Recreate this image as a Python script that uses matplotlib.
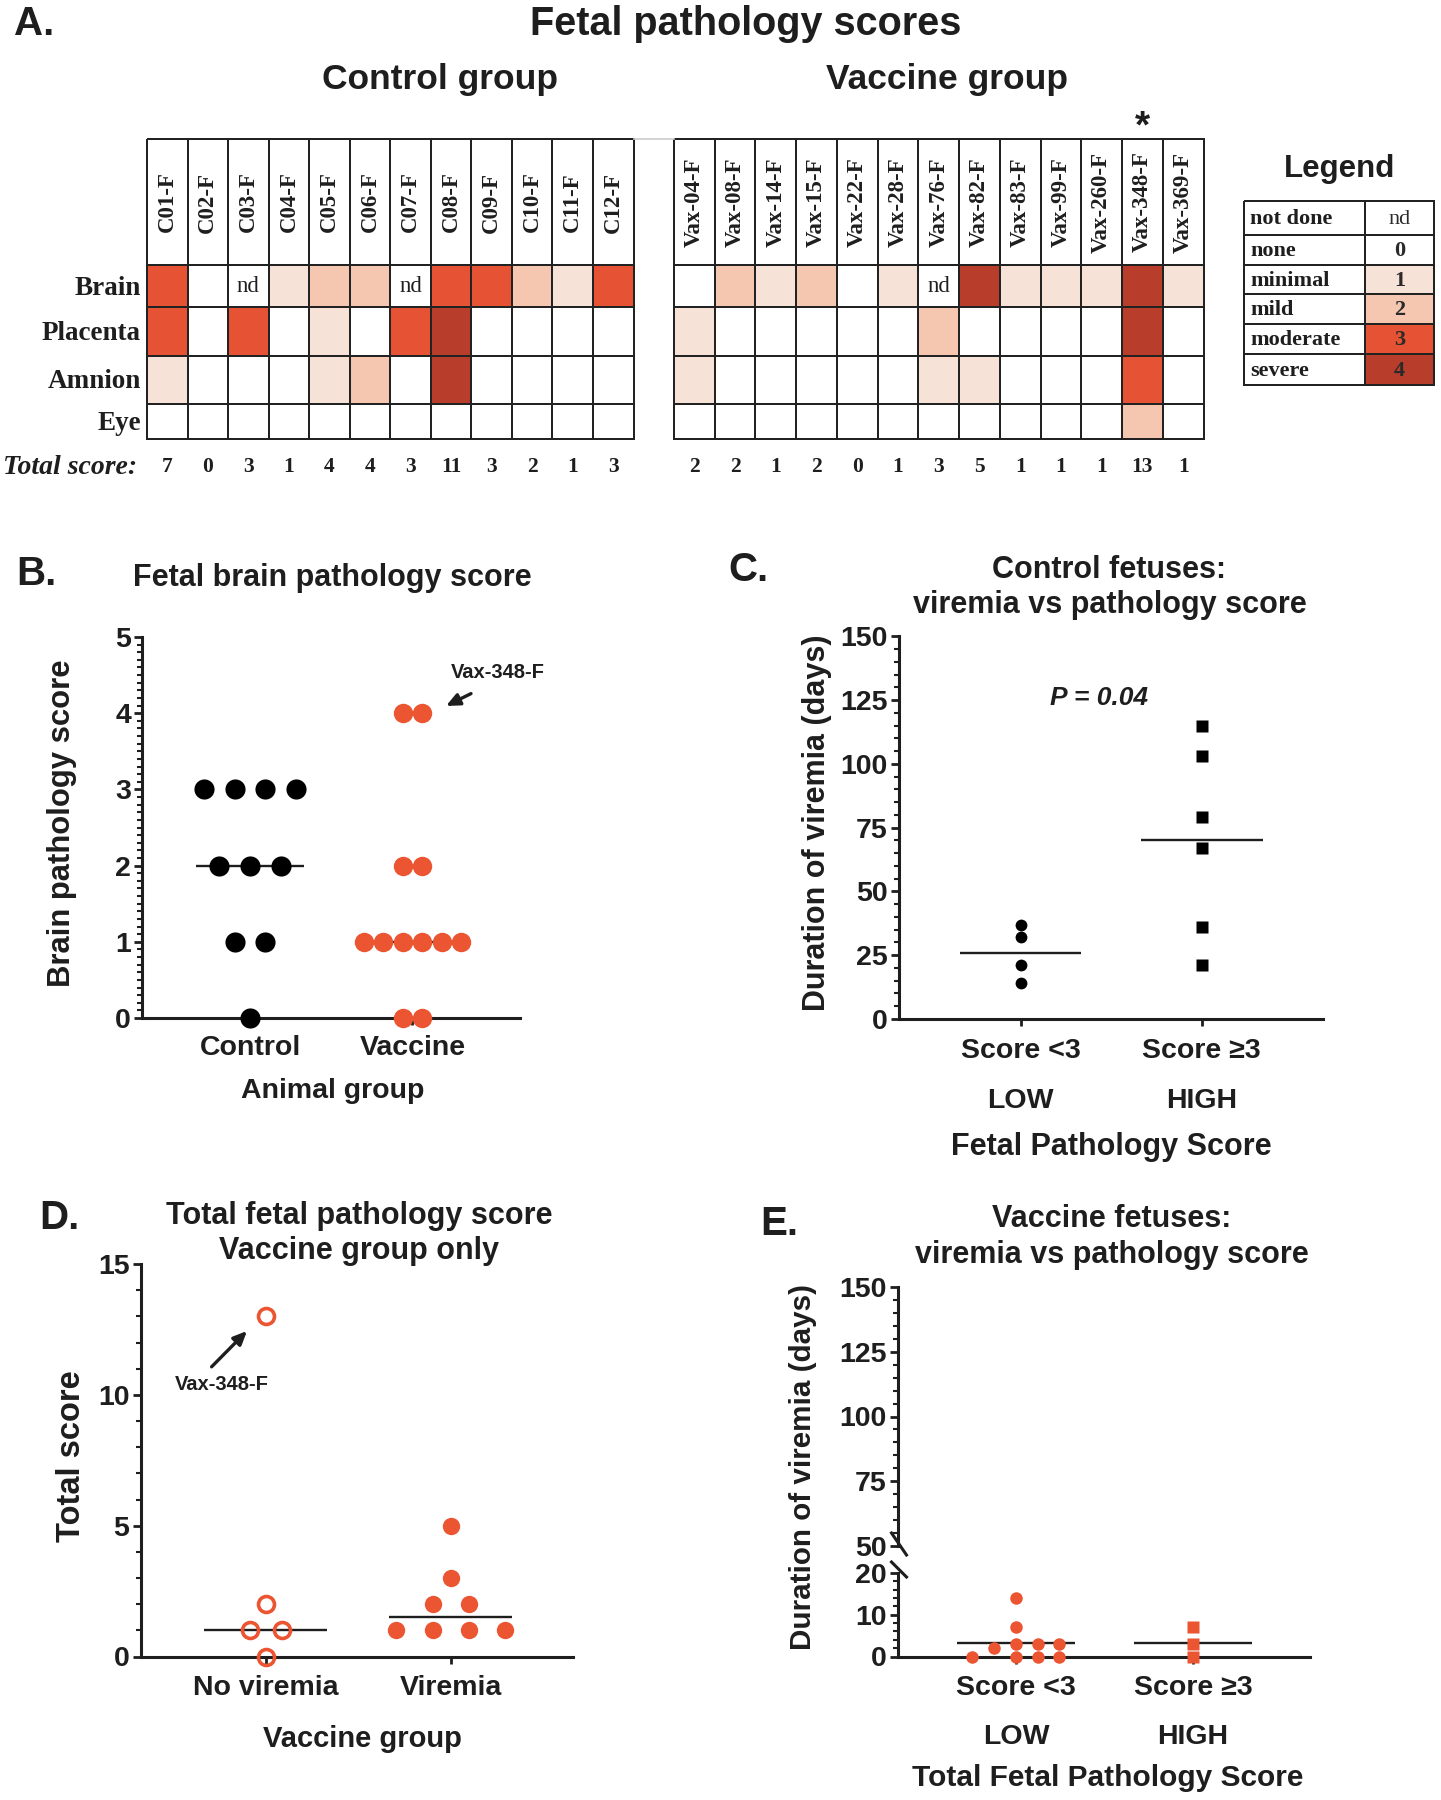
import numpy as np
import matplotlib
matplotlib.use("Agg")
import matplotlib.pyplot as plt
from matplotlib.colors import ListedColormap, BoundaryNorm
from matplotlib.lines import Line2D
from matplotlib.ticker import MultipleLocator

ND = np.nan

# ---------------- DATA ----------------
control_ids = ["C01-F", "C02-F", "C03-F", "C04-F", "C05-F", "C06-F",
               "C07-F", "C08-F", "C09-F", "C10-F", "C11-F", "C12-F"]
vaccine_ids = ["Vax-04-F", "Vax-08-F", "Vax-14-F", "Vax-15-F", "Vax-22-F",
               "Vax-28-F", "Vax-76-F", "Vax-82-F", "Vax-83-F", "Vax-99-F",
               "Vax-260-F", "Vax-348-F", "Vax-369-F"]
tissues = ["Brain", "Placenta", "Amnion", "Eye"]

control_brain = [3, 0, ND, 1, 2, 2, ND, 3, 3, 2, 1, 3]
control_placenta = [3, 0, 3, 0, 1, 0, 3, 4, 0, 0, 0, 0]
control_amnion = [1, 0, 0, 0, 1, 2, 0, 4, 0, 0, 0, 0]
control_eye = [0, 0, 0, 0, 0, 0, 0, 0, 0, 0, 0, 0]

vaccine_brain = [0, 2, 1, 2, 0, 1, ND, 4, 1, 1, 1, 4, 1]
vaccine_placenta = [1, 0, 0, 0, 0, 0, 2, 0, 0, 0, 0, 4, 0]
vaccine_amnion = [1, 0, 0, 0, 0, 0, 1, 1, 0, 0, 0, 3, 0]
vaccine_eye = [0, 0, 0, 0, 0, 0, 0, 0, 0, 0, 0, 2, 0]
starred_fetus = "Vax-348-F"

severity_names = ["not done", "none", "minimal", "mild", "moderate", "severe"]
severity_codes = ["nd", "0", "1", "2", "3", "4"]

# Panel B (brain scores, nd excluded)
brain_groups = ["Control", "Vaccine"]
brain_control = [v for v in control_brain if not np.isnan(v)]
brain_vaccine = [v for v in vaccine_brain if not np.isnan(v)]

# Panel C (control fetuses, duration of viremia in days)
c_groups = ["Score <3\nLOW", "Score \u22653\nHIGH"]
c_low = [37, 32, 21, 14]
c_high = [115, 103, 79, 67, 36, 21]

# Panel D (vaccine group total scores)
d_groups = ["No viremia", "Viremia"]
d_no_viremia = [13, 2, 1, 1, 0]
d_viremia = [5, 3, 2, 2, 1, 1, 1, 1]

# Panel E (vaccine fetuses, duration of viremia in days)
e_groups = ["Score <3\nLOW", "Score \u22653\nHIGH"]
e_low = [0, 2, 0, 3, 7, 14, 0, 3, 0, 3]
e_high = [7, 3, 0]

# ---------------- STYLE ----------------
W, H = 1441, 1800
TXT = "#1e1e1e"
ORANGE = "#EB5532"
SEV_COLORS = ["white", "white", "#F7E2D8", "#F5C7B0", "#E55234", "#B83D2A"]
SERIF = ["Liberation Serif", "DejaVu Serif"]
plt.rcParams["font.family"] = ["Liberation Sans", "DejaVu Sans"]
plt.rcParams["font.weight"] = "bold"
plt.rcParams["text.color"] = TXT
plt.rcParams["axes.edgecolor"] = TXT
plt.rcParams["xtick.color"] = TXT
plt.rcParams["ytick.color"] = TXT

fig = plt.figure(figsize=(W / 100, H / 100), dpi=100)


def px(x0, y0, x1, y1):
    return [x0 / W, 1 - y1 / H, (x1 - x0) / W, (y1 - y0) / H]


def ftext(x, y, s, **kw):
    kw.setdefault("ha", "center")
    kw.setdefault("va", "center")
    fig.text(x / W, 1 - y / H, s, **kw)


def farrow(x0, y0, x1, y1):
    fig.add_artist(plt.Annotation(
        "", xy=(x1, H - y1), xycoords="figure pixels",
        xytext=(x0, H - y0), textcoords="figure pixels",
        arrowprops=dict(arrowstyle="-|>,head_length=0.8,head_width=0.36",
                        color=TXT, lw=2.4, shrinkA=0, shrinkB=0)))


cmap = ListedColormap(SEV_COLORS)
norm = BoundaryNorm([-1.5, -0.5, 0.5, 1.5, 2.5, 3.5, 4.5], cmap.N)

# ---------------- PANEL A: heatmaps ----------------
Y_EDGES = [139, 265, 307, 355.7, 404, 439.3]
TOTAL_Y = 467


def heatmap(x0, x1, ids, rows, row_labels):
    n = len(ids)
    ax = fig.add_axes(px(x0, Y_EDGES[0], x1, Y_EDGES[-1]))
    M = np.full((len(rows) + 1, n), -1.0)
    for r, row in enumerate(rows):
        arr = np.array(row, float)
        M[r + 1] = np.where(np.isnan(arr), -1, arr)
    mesh = ax.pcolormesh(np.arange(n + 1), Y_EDGES, M, cmap=cmap, norm=norm,
                         edgecolors="#222222", linewidth=1.4)
    mesh.set_clip_on(False)
    ax.set_xlim(0, n)
    ax.set_ylim(Y_EDGES[-1], Y_EDGES[0])
    ax.axis("off")
    hdr_mid = (Y_EDGES[0] + Y_EDGES[1]) / 2
    for c, name in enumerate(ids):
        ax.text(c + 0.5, hdr_mid, name, rotation=90, ha="center", va="center",
                family=SERIF, fontsize=16.5, fontweight="bold", color=TXT)
        for r, row in enumerate(rows):
            if np.isnan(row[c]):
                ax.text(c + 0.5, (Y_EDGES[r + 1] + Y_EDGES[r + 2]) / 2, "nd",
                        ha="center", va="center", family=SERIF, fontsize=16.5,
                        fontweight="normal", color=TXT)
        total = int(np.nansum([row[c] for row in rows]))
        ax.text(c + 0.5, TOTAL_Y, str(total), ha="center", va="center",
                family=SERIF, fontsize=15.5, fontweight="bold", color=TXT,
                clip_on=False)
        if name == starred_fetus:
            ax.text(c + 0.5, 127, "*", ha="center", va="center", fontsize=28,
                    fontweight="bold", color=TXT, clip_on=False)
    if row_labels:
        for r, lab in enumerate(tissues):
            ax.text(-0.15, (Y_EDGES[r + 1] + Y_EDGES[r + 2]) / 2 + 2, lab,
                    ha="right", va="center", family=SERIF, fontsize=19.5,
                    fontweight="bold", color=TXT, clip_on=False)
        ax.text(-0.25, TOTAL_Y, "Total score:", ha="right", va="center",
                family=SERIF, fontsize=20, fontweight="bold", style="italic",
                color=TXT, clip_on=False)
    return ax


heatmap(147, 633.5, control_ids,
        [control_brain, control_placenta, control_amnion, control_eye], True)
heatmap(674, 1203.5, vaccine_ids,
        [vaccine_brain, vaccine_placenta, vaccine_amnion, vaccine_eye], False)
fig.add_artist(Line2D([633.5 / W, 674 / W], [1 - 139 / H, 1 - 139 / H],
                      color="#cccccc", lw=1.2))

# legend table
LEG_X = [1244, 1365, 1434]
LEG_Y = [201, 235.3, 265, 294.3, 324.3, 354.3, 385]
lax = fig.add_axes(px(LEG_X[0], LEG_Y[0], LEG_X[-1], LEG_Y[-1]))
codes_num = np.array([-1, 0, 1, 2, 3, 4], float)
LM = np.column_stack([np.full(len(codes_num), -1.0), codes_num])
lmesh = lax.pcolormesh(LEG_X, LEG_Y, LM, cmap=cmap, norm=norm,
                       edgecolors="#222222", linewidth=1.4)
lmesh.set_clip_on(False)
lax.set_xlim(LEG_X[0], LEG_X[-1])
lax.set_ylim(LEG_Y[-1], LEG_Y[0])
lax.axis("off")
for i, (nm, cd) in enumerate(zip(severity_names, severity_codes)):
    ym = (LEG_Y[i] + LEG_Y[i + 1]) / 2 + 1
    lax.text(LEG_X[0] + 6, ym, nm, ha="left", va="center", family=SERIF,
             fontsize=16, fontweight="bold", color=TXT)
    lax.text((LEG_X[1] + LEG_X[2]) / 2, ym, cd, ha="center", va="center",
             family=SERIF, fontsize=16,
             fontweight="normal" if cd == "nd" else "bold", color="#2a2a2a")
ftext(1340, 169, "Legend", fontsize=22.5)

ftext(14, 24, "A.", fontsize=29, ha="left")
ftext(746, 24, "Fetal pathology scores", fontsize=28.5)
ftext(440, 80, "Control group", fontsize=25.5)
ftext(947, 80, "Vaccine group", fontsize=25.5)


# ---------------- helpers for dot plots ----------------
def style_axes(ax, ymaj, ymin_, xlab_pad=6):
    for s in ["top", "right"]:
        ax.spines[s].set_visible(False)
    for s in ["left", "bottom"]:
        ax.spines[s].set_linewidth(2.2)
    ax.yaxis.set_major_locator(MultipleLocator(ymaj))
    ax.yaxis.set_minor_locator(MultipleLocator(ymin_))
    ax.tick_params(axis="y", which="major", length=6, width=2.0,
                   labelsize=20.5, pad=2)
    ax.tick_params(axis="y", which="minor", length=3.5, width=1.5)
    ax.tick_params(axis="x", which="major", length=5, width=2.0,
                   labelsize=20.5, pad=xlab_pad)
    ax.tick_params(axis="x", which="minor", length=0)
    ax.set_facecolor("none")


def row_offsets(values, spacing):
    vals = np.asarray(values, float)
    off = np.zeros(len(vals))
    for v in np.unique(vals):
        idx = np.where(vals == v)[0]
        k = len(idx)
        off[idx] = (np.arange(k) - (k - 1) / 2) * spacing
    return off


def swarm_offsets(values, spacing, x_px, y_px, min_px,
                  slots=(0, 1, 2, -2, -1, 3, -3, 4, -4)):
    vals = np.asarray(values, float)
    off = np.zeros(len(vals))
    placed = []
    for i in np.argsort(vals, kind="stable"):
        for s in slots:
            x = s * spacing
            if all(np.hypot((x - px_) * x_px, (vals[i] - pv) * y_px) >= min_px
                   for px_, pv in placed):
                break
        off[i] = x
        placed.append((x, vals[i]))
    return off


def hline(ax, xc, y, half=0.333):
    ax.plot([xc - half, xc + half], [y, y], color=TXT, lw=1.7, zorder=2,
            solid_capstyle="butt")


# ---------------- PANEL B ----------------
axB = fig.add_axes(px(142, 637, 520, 1018))
style_axes(axB, 1, 0.1, xlab_pad=7)
axB.set_xlim(-0.665, 1.662)
axB.set_ylim(0, 5)
for gi, (vals, col, sp, ms) in enumerate([(brain_control, "black", 0.189, 14.5),
                                           (brain_vaccine, ORANGE, 0.12, 14)]):
    hline(axB, gi, np.median(vals))
    axB.plot(gi + row_offsets(vals, sp), vals, "o", color=col, ms=ms, mec="none",
             zorder=3, clip_on=False)
axB.set_xticks([0, 1])
axB.set_xticklabels(brain_groups)
ftext(16, 574, "B.", fontsize=29, ha="left")
ftext(332, 578, "Fetal brain pathology score", fontsize=22)
ftext(62.5, 823, "Brain pathology score", fontsize=22.3, rotation=90)
ftext(333, 1091, "Animal group", fontsize=20.5)
ftext(498, 673, "Vax-348-F", fontsize=14.5)
farrow(471, 693.6, 446, 706)

# ---------------- PANEL C ----------------
axC = fig.add_axes(px(899, 636.4, 1323, 1019))
style_axes(axC, 25, 5, xlab_pad=9)
axC.set_xlim(-0.671, 1.670)
axC.set_ylim(0, 150)
hline(axC, 0, np.mean(c_low), 0.336)
hline(axC, 1, np.mean(c_high), 0.336)
axC.plot(np.zeros(len(c_low)), c_low, "o", color="black", ms=8.5, mec="none",
         zorder=3)
axC.plot(np.ones(len(c_high)), c_high, "s", color="black", ms=8, mec="none",
         zorder=3)
axC.set_xticks([0, 1])
axC.set_xticklabels(c_groups, linespacing=2.2)
ftext(1099, 698, "P = 0.04", fontsize=19, style="italic")
ftext(728, 570, "C.", fontsize=29, ha="left")
ftext(1109.5, 570, "Control fetuses:", fontsize=22)
ftext(1109.5, 605, "viremia vs pathology score", fontsize=22)
ftext(817, 823, "Duration of viremia (days)", fontsize=22, rotation=90)
ftext(1111, 1147, "Fetal Pathology Score", fontsize=22)

# ---------------- PANEL D ----------------
axD = fig.add_axes(px(140.6, 1264, 573, 1656.5))
style_axes(axD, 5, 1, xlab_pad=8)
axD.set_xlim(-0.676, 1.662)
axD.set_ylim(0, 15)
hline(axD, 0, np.median(d_no_viremia), 0.332)
hline(axD, 1, np.median(d_viremia), 0.332)
axD.plot(row_offsets(d_no_viremia, 0.173), d_no_viremia, "o", mfc="none",
         mec=ORANGE, mew=2.6, ms=11.5, zorder=3, clip_on=False)
axD.plot(1 + row_offsets(d_viremia, 0.195), d_viremia, "o", color=ORANGE,
         mec="none", ms=12.5, zorder=3, clip_on=False)
axD.set_xticks([0, 1])
axD.set_xticklabels(d_groups)
ftext(39, 1218, "D.", fontsize=29, ha="left")
ftext(359, 1216, "Total fetal pathology score", fontsize=22)
ftext(359, 1251, "Vaccine group only", fontsize=22)
ftext(72, 1456, "Total score", fontsize=23.5, rotation=90)
ftext(362, 1739, "Vaccine group", fontsize=21)
ftext(222, 1385, "Vax-348-F", fontsize=14.5)
farrow(211.6, 1366.8, 247, 1331)

# ---------------- PANEL E (broken axis) ----------------
E_X0, E_X1 = 897.5, 1310
axEu = fig.add_axes(px(E_X0, 1287, E_X1, 1546))
axEl = fig.add_axes(px(E_X0, 1573, E_X1, 1656.5))
for a in (axEu, axEl):
    a.set_xlim(-0.669, 1.661)
style_axes(axEu, 25, 5)
axEu.set_ylim(50, 150)
axEu.spines["bottom"].set_visible(False)
axEu.tick_params(axis="x", which="both", bottom=False, labelbottom=False)
style_axes(axEl, 10, 2, xlab_pad=8)
axEl.set_ylim(0, 20)
e_xpx = 177.0
e_ypx = 83.5 / 20
hline(axEl, 0, np.mean(e_low), 0.333)
hline(axEl, 1, np.mean(e_high), 0.333)
axEl.plot(swarm_offsets(e_low, 0.123, e_xpx, e_ypx, 11), e_low, "o",
          color=ORANGE, mec="none", ms=9, zorder=3, clip_on=False)
axEl.plot(1 + swarm_offsets(e_high, 0.123, e_xpx, e_ypx, 11), e_high, "s",
          color=ORANGE, mec="none", ms=8, zorder=3, clip_on=False)
axEl.set_xticks([0, 1])
axEl.set_xticklabels(e_groups, linespacing=2.15)
# break marks
for (yb, dy0, dy1) in [(1546, -13, 9), (1573, -11, 4)]:
    fig.add_artist(Line2D([(E_X0 - 6) / W, (E_X0 + 9) / W],
                          [1 - (yb + dy0) / H, 1 - (yb + dy1) / H],
                          color=TXT, lw=2.2))
ftext(760, 1224, "E.", fontsize=29, ha="left")
ftext(1112, 1219, "Vaccine fetuses:", fontsize=22)
ftext(1112, 1255, "viremia vs pathology score", fontsize=22)
ftext(803, 1467, "Duration of viremia (days)", fontsize=21.3, rotation=90)
ftext(1108, 1778, "Total Fetal Pathology Score", fontsize=21.5)

fig.savefig("out.png", dpi=100, facecolor="white")
